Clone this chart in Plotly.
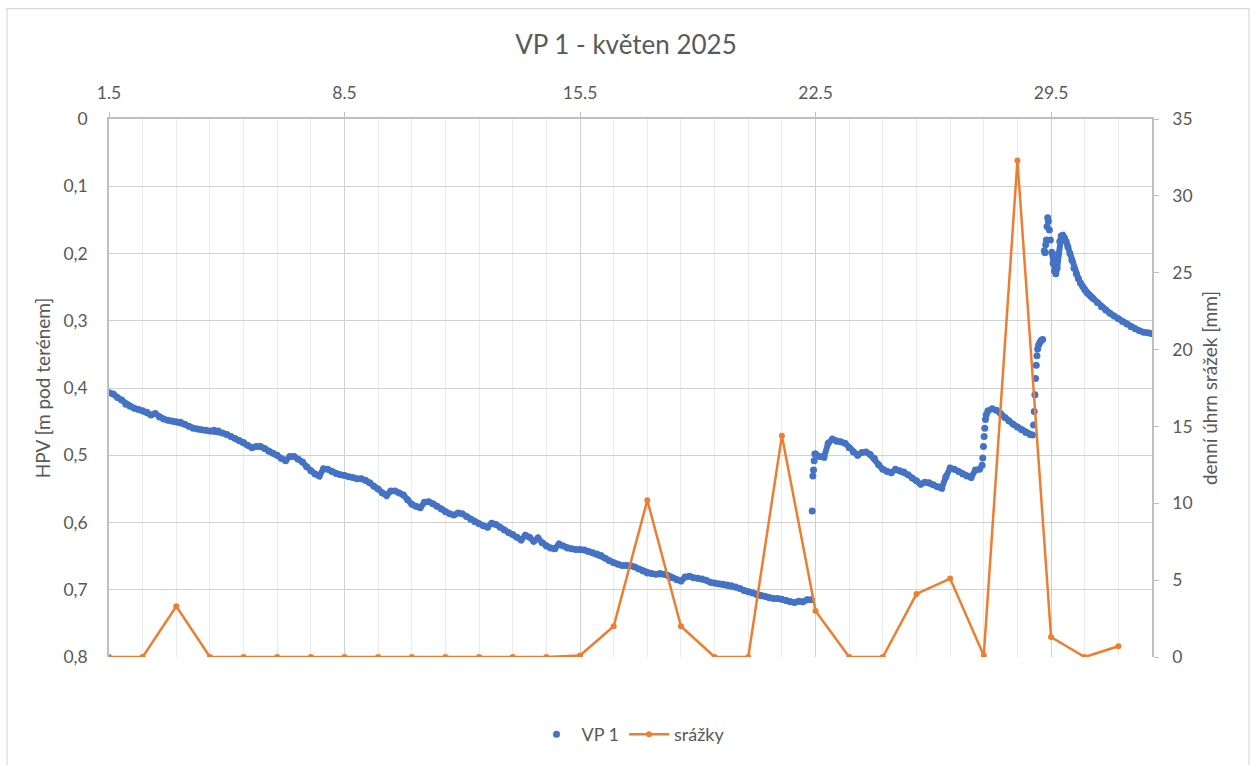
import plotly.graph_objects as go

# ---------------- data ----------------
# daily precipitation (mm), May 1 .. May 31 (plotted at day start)
precip_day = list(range(1, 32))
precip_mm = [0, 0, 3.3, 0, 0, 0, 0, 0, 0, 0, 0, 0, 0, 0, 0.1,
             2.0, 10.2, 2.0, 0, 0, 14.4, 3.0, 0, 0, 4.1, 5.1, 0.1,
             32.3, 1.3, 0, 0.7]

# VP 1 groundwater level (m below surface), 3-hourly readings May 1 00:00 - May 21 21:00
vp1_a = [
    0.407, 0.409, 0.414, 0.418, 0.424, 0.427, 0.430, 0.432,
    0.434, 0.436, 0.440, 0.438, 0.443, 0.446, 0.448, 0.449,
    0.450, 0.451, 0.454, 0.457, 0.460, 0.461, 0.462, 0.463,
    0.464, 0.463, 0.464, 0.467, 0.469, 0.472, 0.475, 0.478,
    0.481, 0.485, 0.489, 0.487, 0.487, 0.490, 0.494, 0.497,
    0.500, 0.505, 0.508, 0.502, 0.502, 0.506, 0.510, 0.517,
    0.523, 0.528, 0.531, 0.520, 0.521, 0.524, 0.527, 0.529,
    0.530, 0.532, 0.533, 0.535, 0.535, 0.537, 0.541, 0.546,
    0.550, 0.556, 0.560, 0.553, 0.553, 0.556, 0.559, 0.566,
    0.573, 0.576, 0.578, 0.570, 0.569, 0.572, 0.576, 0.580,
    0.584, 0.587, 0.589, 0.586, 0.587, 0.591, 0.595, 0.599,
    0.602, 0.605, 0.607, 0.601, 0.603, 0.607, 0.611, 0.615,
    0.618, 0.622, 0.626, 0.619, 0.622, 0.628, 0.623, 0.630,
    0.635, 0.638, 0.639, 0.632, 0.635, 0.638, 0.639, 0.640,
    0.640, 0.641, 0.643, 0.645, 0.647, 0.649, 0.653, 0.657,
    0.660, 0.662, 0.664, 0.664, 0.664, 0.666, 0.669, 0.672,
    0.675, 0.676, 0.677, 0.676, 0.677, 0.679, 0.682, 0.685,
    0.687, 0.681, 0.680, 0.682, 0.683, 0.684, 0.686, 0.689,
    0.690, 0.691, 0.692, 0.693, 0.694, 0.696, 0.698, 0.701,
    0.703, 0.705, 0.707, 0.709, 0.710, 0.712, 0.713, 0.713,
    0.714, 0.716, 0.718, 0.719, 0.717, 0.718, 0.715, 0.715,
]
vp1_a_start = 1.0

# rise on May 21 evening
jump1_day = [21.90, 21.92, 21.94, 21.96, 21.98]
jump1_hpv = [0.583, 0.531, 0.522, 0.508, 0.498]

# 3-hourly readings May 22 00:00 - May 26 21:00
vp1_b = [
    0.498, 0.502, 0.503, 0.482, 0.476, 0.479, 0.480, 0.482,
    0.489, 0.495, 0.500, 0.496, 0.495, 0.499, 0.505, 0.514,
    0.521, 0.524, 0.526, 0.521, 0.523, 0.525, 0.529, 0.534,
    0.538, 0.543, 0.540, 0.541, 0.544, 0.547, 0.549, 0.532,
    0.519, 0.521, 0.524, 0.528, 0.531, 0.533, 0.522, 0.521,
]
vp1_b_start = 22.0

# irregular readings May 26 evening - May 31
late_day = [26.95, 26.97, 26.99, 27.01, 27.03, 27.05, 27.07,
            27.125, 27.25, 27.375, 27.5, 27.625, 27.75, 27.875, 28.0,
            28.125, 28.25, 28.375, 28.45,
            28.48, 28.50, 28.52, 28.54, 28.56, 28.58, 28.60, 28.63,
            28.67, 28.71, 28.75,
            28.80, 28.82, 28.84, 28.86, 28.88, 28.90, 28.92, 28.95,
            28.98, 29.02, 29.06, 29.10, 29.14, 29.18, 29.22, 29.26,
            29.30, 29.35, 29.40, 29.45, 29.50, 29.56, 29.62, 29.68,
            29.75, 29.81, 29.875, 29.94, 30.0, 30.0625, 30.125, 30.1875,
            30.25, 30.375, 30.5, 30.625, 30.75, 30.875, 31.0, 31.125,
            31.25, 31.375, 31.5, 31.625, 31.75, 31.875, 31.98]
late_hpv = [0.515, 0.504, 0.487, 0.472, 0.460, 0.447, 0.440,
            0.434, 0.431, 0.433, 0.438, 0.444, 0.449, 0.454, 0.458,
            0.462, 0.466, 0.469, 0.470,
            0.455, 0.435, 0.410, 0.386, 0.366, 0.352, 0.342, 0.336,
            0.332, 0.329, 0.328,
            0.196, 0.199, 0.187, 0.180, 0.160, 0.147, 0.152, 0.165,
            0.180, 0.198, 0.215, 0.226, 0.230, 0.222, 0.200, 0.182,
            0.174, 0.173, 0.177, 0.182, 0.190, 0.200, 0.210, 0.222,
            0.230, 0.237, 0.244, 0.249, 0.254, 0.258, 0.261, 0.264,
            0.267, 0.273, 0.279, 0.284, 0.289, 0.293, 0.297, 0.301,
            0.305, 0.309, 0.312, 0.315, 0.317, 0.318, 0.319]

x_tick_vals = [1, 8, 15, 22, 29]
x_tick_text = ["1.5", "8.5", "15.5", "22.5", "29.5"]

# ---------------- assemble ----------------
STEP = 0.125
a_days = [vp1_a_start + i * STEP for i in range(len(vp1_a))]
b_days = [vp1_b_start + i * STEP for i in range(len(vp1_b))]
vp1_day = a_days + jump1_day + b_days + late_day
vp1_hpv = vp1_a + jump1_hpv + vp1_b + late_hpv

# connecting band through the slowly varying stretches (rendering only);
# the rapid rises stay as separate dots like in the logger plot
band_segments = [
    (a_days, vp1_a),
    (b_days, vp1_b),
    ([d for d in late_day if 27.07 <= d <= 28.45],
     [v for d, v in zip(late_day, late_hpv) if 27.07 <= d <= 28.45]),
    ([d for d in late_day if d >= 29.0],
     [v for d, v in zip(late_day, late_hpv) if d >= 29.0]),
]
band_x, band_y = [], []
for xs, ys in band_segments:
    band_x += list(xs) + [None]
    band_y += list(ys) + [None]

TXT = "#595959"
FONT = "Lato, Open Sans, sans-serif"
BLUE = "#4472C4"
ORANGE = "#ED7D31"

fig = go.Figure()
fig.add_trace(go.Scatter(
    x=band_x, y=band_y, mode="lines", showlegend=False, hoverinfo="skip",
    line=dict(color=BLUE, width=6), connectgaps=False, yaxis="y"))
fig.add_trace(go.Scatter(
    x=vp1_day, y=vp1_hpv, mode="markers", name="VP 1",
    marker=dict(color=BLUE, size=7, line=dict(width=0)),
    yaxis="y"))
fig.add_trace(go.Scatter(
    x=precip_day, y=precip_mm, mode="lines+markers", name="srážky",
    line=dict(color=ORANGE, width=2.5),
    marker=dict(color=ORANGE, size=6),
    yaxis="y2"))

fig.update_layout(
    width=1252, height=765,
    paper_bgcolor="white", plot_bgcolor="white",
    separators=", ",
    font=dict(family=FONT, color=TXT, size=18),
    margin=dict(l=109, r=100, t=119, b=105),
    title=dict(text="VP 1 - květen 2025", x=0.5, xanchor="center",
               y=1 - 45 / 765, yanchor="middle",
               font=dict(size=26, color=TXT, family=FONT)),
    xaxis=dict(
        range=[1, 32], side="top",
        tickmode="array", tickvals=x_tick_vals, ticktext=x_tick_text,
        showgrid=True, gridcolor="#d0d0d0", gridwidth=1.3,
        minor=dict(tickmode="linear", tick0=1, dtick=1, showgrid=True,
                   gridcolor="#ebebeb", gridwidth=1),
        ticks="outside", ticklen=5, tickcolor="#bfbfbf",
        ticklabelstandoff=6,
        showline=True, linecolor="#bfbfbf", linewidth=1.5,
        zeroline=False, tickfont=dict(size=17.5, color=TXT),
    ),
    yaxis=dict(
        range=[0.8, 0], dtick=0.1, tick0=0,
        showgrid=True, gridcolor="#d0d0d0", gridwidth=1.3,
        showline=True, linecolor="#bfbfbf", linewidth=1.5,
        zeroline=False, ticks="", ticklabelstandoff=16,
        tickfont=dict(size=17.5, color=TXT),
        title=dict(text="HPV [m pod terénem]", standoff=8,
                   font=dict(size=19, color=TXT)),
    ),
    yaxis2=dict(
        range=[0, 35], dtick=5, overlaying="y", side="right",
        showgrid=False, zeroline=False,
        showline=True, linecolor="#bfbfbf", linewidth=1.5,
        ticks="outside", ticklen=5, tickcolor="#bfbfbf",
        ticklabelstandoff=10,
        tickfont=dict(size=17.5, color=TXT),
        title=dict(text="denní úhrn srážek [mm]", standoff=12,
                   font=dict(size=19, color=TXT)),
    ),
    legend=dict(orientation="h", x=0.5, xanchor="center",
                y=(660 - 738) / 541, yanchor="middle",
                font=dict(size=18, color=TXT), itemwidth=40),
    showlegend=True,
)

# light chart-area border
fig.add_shape(type="rect", xref="paper", yref="paper",
              x0=(7 - 109) / 1043, x1=(1249 - 109) / 1043,
              y0=(660 - 775) / 541, y1=(660 - 8) / 541,
              line=dict(color="#d9d9d9", width=1.2), fillcolor="rgba(0,0,0,0)",
              layer="below")

fig.write_html("out.html", config={"displayModeBar": False},
               post_script="document.body.style.margin='0px';")
